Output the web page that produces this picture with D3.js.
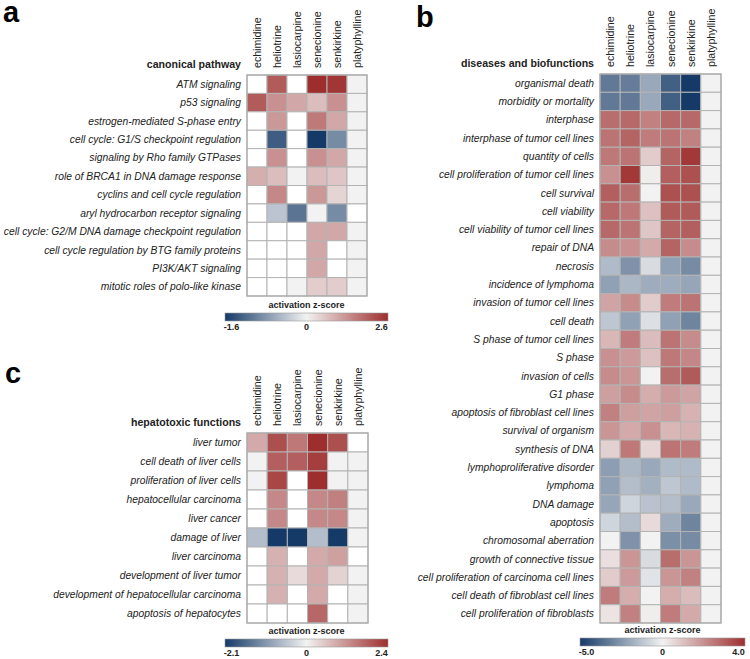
<!DOCTYPE html>
<html><head><meta charset="utf-8">
<script src="https://cdn.jsdelivr.net/npm/d3@7"></script>
<style>body{margin:0;background:#fff}svg{display:block;font-family:"Liberation Sans",Arial,sans-serif}</style>
</head><body><svg id="c" width="750" height="659"></svg>
<script>
const compounds = ["echimidine","heliotrine","lasiocarpine","senecionine","senkirkine","platyphylline"];

// null = white (no value), 0 = grey (z = 0)
const pathwayRows = ["ATM signaling","p53 signaling","estrogen-mediated S-phase entry","cell cycle: G1/S checkpoint regulation","signaling by Rho family GTPases","role of BRCA1 in DNA damage response","cyclins and cell cycle regulation","aryl hydrocarbon receptor signaling","cell cycle: G2/M DNA damage checkpoint regulation","cell cycle regulation by BTG family proteins","PI3K/AKT signaling","mitotic roles of polo-like kinase"];
const pathwayValues = [
  [null, 2.0, null, 2.6, 2.5, 0],
  [2.0, 1.3, 1.0, 0.7, 1.3, 0],
  [null, 1.2, null, 1.6, 1.0, 0],
  [null, -1.3, null, -1.6, -0.9, 0],
  [null, 1.3, null, 1.3, 1.0, 0],
  [0.9, 0.7, 0, 0.7, 0.6, 0],
  [null, 1.4, null, 1.2, 0.4, 0],
  [null, -0.4, -1.1, 0, -0.9, null],
  [null, null, null, 1.0, 1.0, 0],
  [null, null, null, 1.0, null, 0],
  [null, null, null, 1.0, null, 0],
  [null, null, 0, 0.5, 0.5, 0]
];
const pathwayDomain = [-1.6, 2.6];
const pathwayTicks = ["-1.6","0","2.6"];

const diseaseRows = ["organismal death","morbidity or mortality","interphase","interphase of tumor cell lines","quantity of cells","cell proliferation of tumor cell lines","cell survival","cell viability","cell viability of tumor cell lines","repair of DNA","necrosis","incidence of lymphoma","invasion of tumor cell lines","cell death","S phase of tumor cell lines","S phase","invasion of cells","G1 phase","apoptosis of fibroblast cell lines","survival of organism","synthesis of DNA","lymphoproliferative disorder","lymphoma","DNA damage","apoptosis","chromosomal aberration","growth of connective tissue","cell proliferation of carcinoma cell lines","cell death of fibroblast cell lines","cell proliferation of fibroblasts"];
const diseaseValues = [
  [-3.3, -3.2, -2.0, -4.0, -5.0, 0],
  [-3.3, -3.3, -2.0, -4.0, -5.0, 0],
  [2.7, 2.8, 2.3, 2.8, 2.8, 0],
  [2.6, 2.9, 2.4, 2.6, 2.3, 0],
  [2.5, 2.6, 0.8, 2.9, 3.8, 0],
  [2.0, 3.8, 0.1, 3.0, 3.3, 0],
  [3.0, 2.7, 0, 3.3, 3.3, 0],
  [2.8, 2.5, 1.0, 3.1, 3.1, 0],
  [2.8, 2.6, 0.9, 2.9, 3.0, 0],
  [2.1, 2.0, 1.5, 2.9, 2.1, 0],
  [-1.5, -2.6, -0.6, -2.2, -2.8, 0],
  [-2.2, -1.6, -1.9, -1.9, -2.1, 0],
  [1.6, 2.1, 0.8, 2.4, 2.6, 0],
  [-1.2, -2.2, -0.5, -2.2, -3.0, 0],
  [1.2, 2.4, 1.1, 2.6, 2.1, 0],
  [2.0, 1.8, 1.0, 2.5, 2.2, 0],
  [2.1, 1.9, 0, 2.7, 3.1, 0],
  [1.7, 2.1, 1.4, 1.8, 1.6, 0],
  [2.3, 1.7, 1.6, 1.7, 1.3, 0],
  [1.9, 1.5, 2.0, 1.2, 1.3, 0],
  [0.7, 2.5, 0.6, 2.6, 2.4, 0],
  [-2.3, -1.6, -2.0, -1.5, -1.5, 0],
  [-2.2, -1.4, -1.8, -1.2, -1.5, 0],
  [-2.1, -0.8, -1.3, -1.4, -2.0, 0],
  [-0.8, -1.4, 0.5, -1.9, -3.0, 0],
  [0, -2.6, 0, -2.7, -2.8, 0],
  [0.4, 1.9, -0.6, 2.7, 1.9, 0],
  [0.8, 1.8, -0.4, 1.9, 2.3, 0],
  [2.4, 1.4, 0, 1.4, 1.1, 0],
  [0.3, 2.3, 0.1, 2.4, 1.5, 0]
];
const diseaseDomain = [-5.0, 4.0];
const diseaseTicks = ["-5.0","0","4.0"];

const hepatoRows = ["liver tumor","cell death of liver cells","proliferation of liver cells","hepatocellular carcinoma","liver cancer","damage of liver","liver carcinoma","development of liver tumor","development of hepatocellular carcinoma","apoptosis of hepatocytes"];
const hepatoValues = [
  [0.9, 2.0, 1.5, 2.4, 2.0, null],
  [0, 1.8, 1.8, 2.2, 0, 0],
  [0, 2.1, null, 2.4, 0, 0],
  [null, 1.3, null, 1.3, 1.4, 0],
  [null, 1.3, null, 1.3, 1.3, 0],
  [-0.6, -2.1, -2.1, -0.6, -2.1, 0],
  [null, 0.8, null, 0.9, 1.0, null],
  [null, 0.8, 0.3, 0.9, 0.4, 0],
  [null, 0.8, null, 0.9, null, 0],
  [null, null, null, 1.7, null, 0]
];
const hepatoDomain = [-2.1, 2.4];
const hepatoTicks = ["-2.1","0","2.4"];

const svg = d3.select("#c");
const interp = t => t < 0.5
  ? d3.interpolateRgb("#163a68", "#f2f2f2")(t * 2)
  : d3.interpolateRgb("#f2f2f2", "#9e2e2e")((t - 0.5) * 2);

function panel(o) {
  const g = svg.append("g");
  const x = d3.scaleBand().domain(o.cols).range([o.x0, o.x1]);
  const y = d3.scaleBand().domain(o.rows).range([o.y0, o.y1]);
  const color = d3.scaleDiverging(interp).domain([o.domain[0], 0, o.domain[1]]);
  const cells = [];
  o.values.forEach((r, i) => r.forEach((v, j) => cells.push({row: o.rows[i], col: o.cols[j], v})));
  g.selectAll("rect.cell").data(cells).join("rect")
    .attr("x", d => x(d.col)).attr("y", d => y(d.row))
    .attr("width", x.bandwidth()).attr("height", y.bandwidth())
    .attr("fill", d => d.v === null ? "#ffffff" : color(d.v))
    .attr("stroke", "#b3b3b3").attr("stroke-width", 1);
  g.append("rect").attr("x", o.x0).attr("y", o.y0).attr("width", o.x1 - o.x0).attr("height", o.y1 - o.y0)
    .attr("fill", "none").attr("stroke", "#aaaaaa").attr("stroke-width", 1.2);
  // row labels
  g.selectAll("text.row").data(o.rows).join("text")
    .attr("x", o.x0 - 6).attr("y", d => y(d) + y.bandwidth() / 2).attr("dy", "0.35em")
    .attr("text-anchor", "end").attr("font-style", "italic").attr("font-size", 10.3).attr("fill", "#222")
    .text(d => d);
  // column labels
  g.selectAll("text.col").data(o.cols).join("text")
    .attr("transform", d => `translate(${x(d) + x.bandwidth() / 2 + 4},${o.y0 - 7}) rotate(-90)`)
    .attr("font-size", 10.6).attr("fill", "#222").text(d => d);
  // title
  g.append("text").attr("x", o.x0 - 6).attr("y", o.y0 - 7).attr("text-anchor", "end")
    .attr("font-weight", "bold").attr("font-size", 10.6).attr("fill", "#222").text(o.title);
  // panel letter
  g.append("text").attr("x", o.lx).attr("y", o.ly).attr("font-weight", "bold")
    .attr("font-size", 29).attr("fill", "#000").text(o.letter);
  // legend
  const lg = svg.append("g");
  const gradId = "grad" + o.letter;
  const grad = svg.append("defs").append("linearGradient").attr("id", gradId);
  d3.range(0, 1.001, 0.05).forEach(t => grad.append("stop").attr("offset", t).attr("stop-color", interp(t)));
  const lx = d3.scaleLinear().domain([0, 1]).range([o.bx0, o.bx1]);
  lg.append("rect").attr("x", lx(0)).attr("y", o.by).attr("width", lx(1) - lx(0)).attr("height", 8)
    .attr("fill", `url(#${gradId})`).attr("stroke", "#999").attr("stroke-width", 0.6);
  lg.append("text").attr("x", lx(0.5)).attr("y", o.by - 5).attr("text-anchor", "middle")
    .attr("font-weight", "bold").attr("font-size", 9).attr("fill", "#222").text("activation z-score");
  const tpos = [0.04, 0.5, 0.96];
  lg.selectAll("text.tick").data(o.ticks).join("text")
    .attr("x", (d, i) => lx(tpos[i])).attr("y", o.by + 17).attr("text-anchor", "middle")
    .attr("font-weight", "bold").attr("font-size", 9).attr("fill", "#222").text(d => d);
}

panel({cols: compounds, rows: pathwayRows, values: pathwayValues, domain: pathwayDomain, ticks: pathwayTicks,
  x0: 247, x1: 367, y0: 75, y1: 296, title: "canonical pathway", letter: "a", lx: 3, ly: 22,
  bx0: 225, bx1: 388, by: 313});
panel({cols: compounds, rows: diseaseRows, values: diseaseValues, domain: diseaseDomain, ticks: diseaseTicks,
  x0: 600, x1: 721, y0: 74, y1: 623, title: "diseases and biofunctions", letter: "b", lx: 416, ly: 27,
  bx0: 580, bx1: 745, by: 638});
panel({cols: compounds, rows: hepatoRows, values: hepatoValues, domain: hepatoDomain, ticks: hepatoTicks,
  x0: 247, x1: 368, y0: 433, y1: 623, title: "hepatotoxic functions", letter: "c", lx: 5, ly: 383,
  bx0: 225, bx1: 388, by: 639});
</script></body></html>
